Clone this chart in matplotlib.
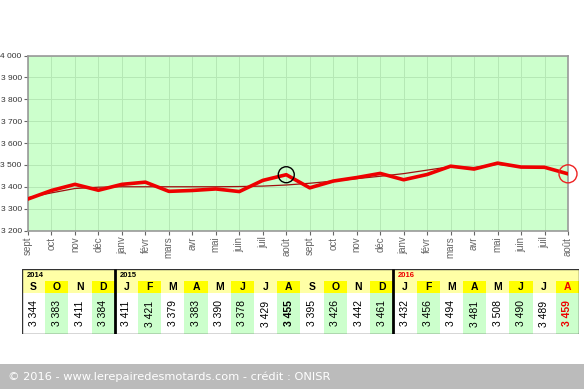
import numpy as np
import matplotlib
matplotlib.use("Agg")
import matplotlib.pyplot as plt
from matplotlib.patches import Rectangle, Ellipse

plt.rcParams['font.family'] = ['Liberation Sans', 'DejaVu Sans']

months = ["sept", "oct", "nov", "déc", "janv", "févr", "mars", "avr", "mai", "juin", "juil", "août",
          "sept", "oct", "nov", "déc", "janv", "févr", "mars", "avr", "mai", "juin", "juil", "août"]
letters = ["S", "O", "N", "D", "J", "F", "M", "A", "M", "J", "J", "A",
           "S", "O", "N", "D", "J", "F", "M", "A", "M", "J", "J", "A"]
values = [3344, 3383, 3411, 3384, 3411, 3421, 3379, 3383, 3390, 3378, 3429, 3455,
          3395, 3426, 3442, 3461, 3432, 3456, 3494, 3481, 3508, 3490, 3489, 3459]
trend = [3350, 3372, 3392, 3398, 3400, 3400, 3400, 3400, 3400, 3401, 3403, 3408,
         3416, 3426, 3437, 3448, 3460, 3476, 3492, 3488, 3503, 3490, 3488, 3460]
years = ["2014", "2015", "2016"]
year_starts = [0, 4, 16]
yticks = [3200, 3300, 3400, 3500, 3600, 3700, 3800, 3900, 4000]

W, H = 584, 389
fig = plt.figure(figsize=(W / 100, H / 100), dpi=100)

def fx(px):
    return px / W

def fy(py):
    return 1 - py / H

# ---------------- main chart ----------------
L, R, T, B = 28, 568, 55.5, 230.5
ax = fig.add_axes([fx(L), fy(B), fx(R - L), fy(T) - fy(B)])
ax.set_facecolor("#ccffcc")
x = np.arange(len(values))
ax.set_xlim(0, len(values) - 1)
ax.set_ylim(3200, 4000)
ax.set_yticks(yticks)
ax.set_yticklabels([f"{v // 1000} {v % 1000:03d}" for v in yticks], fontsize=6, color="#333333")
ax.set_xticks(x)
ax.set_xticklabels(months, rotation=90, fontsize=7, color="#666666")
ax.grid(True, color="#b5e8b5", linewidth=0.7)
ax.set_axisbelow(True)
for s in ax.spines.values():
    s.set_color("#999999")
    s.set_linewidth(1.2)
ax.tick_params(axis="both", length=3, color="#666666", pad=1.5)

ax.plot(x, trend, color="#a01010", linewidth=0.9, zorder=3)
ax.plot(x, values, color="#ee0000", linewidth=2.6, zorder=4, solid_joinstyle="round")

px_x = (len(values) - 1) / (R - L)
px_y = 800 / (B - T)
ax.add_patch(Ellipse((11, values[11]), 16 * px_x, 16 * px_y, fill=False, edgecolor="black",
                     linewidth=1.0, zorder=5))
ax.add_patch(Ellipse((23, values[23]), 18 * px_x, 18 * px_y, fill=False, edgecolor="#ee2222",
                     linewidth=1.0, zorder=5, clip_on=False))

# ---------------- table ----------------
TL, TR, TT, TB = 22, 579, 269, 334
tax = fig.add_axes([fx(TL), fy(TB), fx(TR - TL), fy(TT) - fy(TB)])
n = len(values)
tax.set_xlim(0, n)
tax.set_ylim(TB, TT)
tax.axis("off")
head_bottom = 293
row_top = 281.5
tax.add_patch(Rectangle((0, TT), n, head_bottom - TT, facecolor="#ffffa6", edgecolor="none"))
tax.add_patch(Rectangle((0, head_bottom), n, TB - head_bottom, facecolor="white", edgecolor="none"))
for i in range(n):
    if i % 2 == 1:
        tax.add_patch(Rectangle((i, row_top), 1, head_bottom - row_top, facecolor="#ffff00", edgecolor="none"))
        tax.add_patch(Rectangle((i, head_bottom), 1, TB - head_bottom, facecolor="#ccffcc", edgecolor="none"))
    last = i == n - 1
    tax.text(i + 0.5, 287.5, letters[i], ha="center", va="center", fontsize=7.5, fontweight="bold",
             color="#ee0000" if last else "black")
    v = values[i]
    bold = i in (11, 23)
    tax.text(i + 0.5, 313.5, f"{v // 1000} {v % 1000:03d}", rotation=90, ha="center", va="center",
             fontsize=7.5, fontweight="bold" if bold else "normal",
             color="#ee0000" if last else "black")
for k, (yr, st) in enumerate(zip(years, year_starts)):
    tax.text(st + 0.2, 275.5, yr, ha="left", va="center", fontsize=5.5, fontweight="bold",
             color="#ee0000" if k == 2 else "black")
    if st > 0:
        tax.plot([st, st], [TT, TB], color="black", linewidth=2.0, solid_capstyle="butt")
tax.add_patch(Rectangle((0, TT), n, TB - TT, fill=False, edgecolor="#333333", linewidth=1.0))

# ---------------- footer ----------------
fax = fig.add_axes([0, 0, 1, fy(364)])
fax.set_xlim(0, W)
fax.set_ylim(389, 364)
fax.axis("off")
fax.add_patch(Rectangle((0, 364), W, 25, facecolor="#bbbbbb", edgecolor="none"))
fax.text(8, 376.5, "© 2016 - www.lerepairedesmotards.com - crédit : ONISR", ha="left", va="center",
         fontsize=8.2, color="white", family=["DejaVu Sans"])

fig.savefig("out.png", dpi=100)
